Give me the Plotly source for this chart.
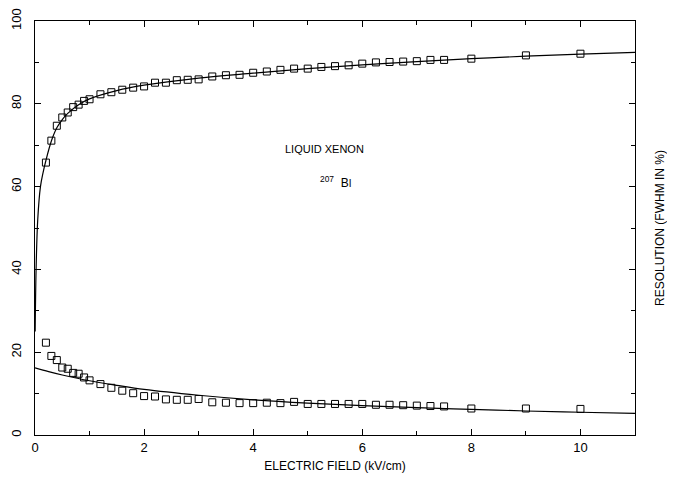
import plotly.graph_objects as go

# Upper series: charge collection (left scale, %)
field_up = [0.2, 0.3, 0.4, 0.5, 0.6, 0.7, 0.8, 0.9, 1.0, 1.2, 1.4, 1.6, 1.8, 2.0, 2.2, 2.4, 2.6, 2.8, 3.0,
            3.25, 3.5, 3.75, 4.0, 4.25, 4.5, 4.75, 5.0, 5.25, 5.5, 5.75, 6.0, 6.25, 6.5, 6.75, 7.0, 7.25, 7.5,
            8.0, 9.0, 10.0]
collect = [65.8, 71.1, 74.7, 76.7, 77.9, 79.2, 79.8, 80.7, 81.1, 82.3, 82.8, 83.4, 83.9, 84.2, 85.1, 85.1, 85.7, 85.8, 85.9,
           86.6, 86.9, 87.0, 87.5, 87.8, 88.2, 88.5, 88.5, 88.9, 89.1, 89.3, 89.7, 90.0, 90.1, 90.2, 90.3, 90.6, 90.6,
           90.9, 91.7, 92.1]

# Lower series: resolution FWHM (%)
field_lo = field_up
resol = [22.3, 19.1, 18.1, 16.3, 16.0, 15.0, 14.8, 13.9, 13.2, 12.3, 11.4, 10.7, 10.1, 9.4, 9.3, 8.6, 8.5, 8.5, 8.7,
         7.9, 7.8, 7.7, 7.7, 7.8, 7.7, 8.0, 7.5, 7.5, 7.5, 7.5, 7.5, 7.3, 7.3, 7.2, 7.1, 7.0, 6.9,
         6.4, 6.4, 6.3]

# Fitted curves
fit_up_x = [0.003, 0.02, 0.05, 0.1, 0.15, 0.2, 0.3, 0.4, 0.5, 0.6, 0.8, 1.0, 1.5, 2.0, 3.0, 4.0, 5.0, 6.0, 7.0, 8.0, 9.0, 10.0, 11.0]
fit_up_y = [25.0, 40.0, 52.0, 60.0, 63.5, 66.3, 71.0, 74.2, 76.2, 77.7, 79.8, 81.2, 83.2, 84.5, 86.2, 87.4, 88.5, 89.4, 90.2, 90.9, 91.5, 92.0, 92.4]
fit_lo_x = [0.0, 0.25, 0.5, 1.0, 1.5, 2.0, 3.0, 4.0, 5.0, 6.0, 7.0, 8.0, 9.0, 10.0, 11.0]
fit_lo_y = [16.2, 15.3, 14.5, 13.1, 12.0, 11.0, 9.6, 8.5, 7.7, 7.1, 6.6, 6.2, 5.8, 5.5, 5.2]

x_ticks = [0, 2, 4, 6, 8, 10]
y_ticks = [0, 20, 40, 60, 80, 100]

FONT = "Liberation Sans"
fig = go.Figure()
fig.add_trace(go.Scatter(x=fit_up_x, y=fit_up_y, mode="lines", line=dict(color="black", width=1.2, shape="spline"), showlegend=False))
fig.add_trace(go.Scatter(x=fit_lo_x, y=fit_lo_y, mode="lines", line=dict(color="black", width=1.2, shape="spline"), showlegend=False))
mk = dict(symbol="square-open", size=7, color="black", line=dict(width=1))
fig.add_trace(go.Scatter(x=field_up, y=collect, mode="markers", marker=mk, showlegend=False))
fig.add_trace(go.Scatter(x=field_lo, y=resol, mode="markers", marker=mk, showlegend=False))

# page has an 8px body margin; figure sized to compensate
W, H = 659, 465
ML, MR, MT, MB = 27, 32, 13, 38
fig.update_layout(
    width=W, height=H,
    margin=dict(l=ML, r=MR, t=MT, b=MB),
    paper_bgcolor="white", plot_bgcolor="white",
    font=dict(family=FONT, color="black", size=12),
    xaxis=dict(range=[0, 11], tickvals=x_ticks, ticktext=[str(v) for v in x_ticks],
               ticks="inside", ticklen=6, tickcolor="black", mirror="ticks", automargin=False,
               showline=True, linecolor="black", linewidth=1, showgrid=False, zeroline=False,
               minor=dict(dtick=1, ticks="inside", ticklen=4, tickcolor="black"),
               tickfont=dict(size=13),
               title=dict(text="ELECTRIC FIELD (kV/cm)", font=dict(size=12), standoff=8)),
    yaxis=dict(range=[0, 100], tickvals=y_ticks, ticktext=[str(v) for v in y_ticks],
               ticks="inside", ticklen=6, tickcolor="black", mirror="ticks", automargin=False,
               showline=True, linecolor="black", linewidth=1, showgrid=False, zeroline=False,
               minor=dict(dtick=10, ticks="inside", ticklen=4, tickcolor="black"),
               tickangle=-90, tickfont=dict(size=13), ticklabelstandoff=8),
    annotations=[
        dict(x=5.3, y=69, xref="x", yref="y", text="LIQUID XENON", showarrow=False,
             font=dict(size=11, family=FONT)),
        dict(x=5.5, y=61, xref="x", yref="y", text="<sup>207</sup>  B<span style='font-size:10px'>I</span>", showarrow=False,
             font=dict(size=12, family=FONT)),
        dict(x=(660 - 8 - ML) / (W - ML - MR), y=0.5, xref="paper", yref="paper", text="RESOLUTION (FWHM IN %)",
             textangle=-90, showarrow=False, font=dict(size=12, family=FONT), xanchor="center", yanchor="middle"),
    ],
)
fig.write_html("out.html")
